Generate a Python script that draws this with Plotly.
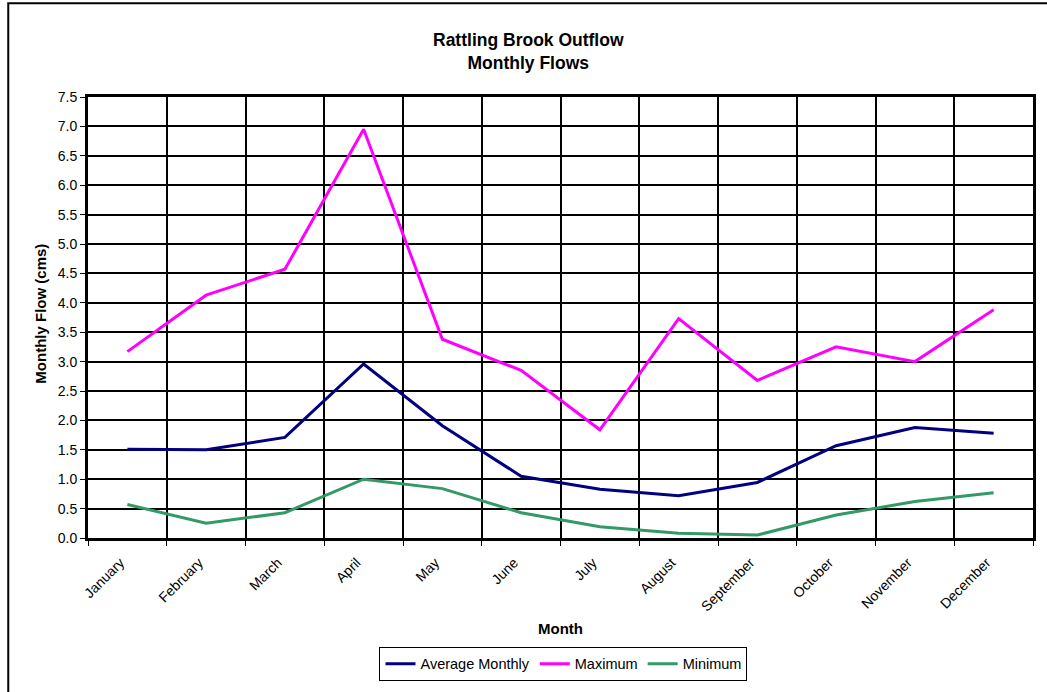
import plotly.graph_objects as go

months = ["January", "February", "March", "April", "May", "June", "July",
          "August", "September", "October", "November", "December"]
average_monthly = [1.51, 1.50, 1.71, 2.96, 1.91, 1.05, 0.83, 0.72, 0.945, 1.57, 1.88, 1.78]
maximum = [3.17, 4.13, 4.57, 6.95, 3.38, 2.85, 1.84, 3.73, 2.68, 3.25, 3.00, 3.88]
minimum = [0.57, 0.25, 0.43, 1.00, 0.84, 0.43, 0.19, 0.08, 0.05, 0.39, 0.62, 0.77]

y_ticks = [i * 0.5 for i in range(16)]
y_tick_labels = [f"{v:.1f}" for v in y_ticks]

FONT = "Liberation Sans, Arial, sans-serif"

fig = go.Figure()
fig.add_trace(go.Scatter(x=months, y=average_monthly, mode="lines", name="Average Monthly",
                         line=dict(color="#000080", width=3)))
fig.add_trace(go.Scatter(x=months, y=maximum, mode="lines", name="Maximum",
                         line=dict(color="#FF00FF", width=3)))
fig.add_trace(go.Scatter(x=months, y=minimum, mode="lines", name="Minimum",
                         line=dict(color="#339966", width=3)))

W, H = 1047, 692
L, R, T, B = 88, 11, 97, 153
pw, ph = W - L - R, H - T - B

def px_x(x):
    return (x - L) / pw

def px_y(y):
    return (H - B - y) / ph

fig.update_layout(
    width=W, height=H,
    margin=dict(l=L, r=R, t=T, b=B),
    paper_bgcolor="white", plot_bgcolor="white",
    font=dict(family=FONT, color="black", size=14),
    showlegend=True,
    legend=dict(orientation="h", x=px_x(565), y=px_y(665), xanchor="center", yanchor="middle",
                bordercolor="black", borderwidth=1, font=dict(size=14.5),
                itemwidth=30, tracegroupgap=0),
    xaxis=dict(type="category", tickson="boundaries", showgrid=True, gridcolor="black", gridwidth=2,
               ticks="outside", ticklen=5, tickcolor="black", tickwidth=1, tickangle=-45,
               showline=True, linecolor="black", linewidth=3, mirror=True,
               ticklabelstandoff=8, ticklabelshift=-7,
               tickfont=dict(size=14), range=[-0.5, 11.5], zeroline=False),
    yaxis=dict(range=[0, 7.5], tickvals=y_ticks, ticktext=y_tick_labels, showgrid=True,
               gridcolor="black", gridwidth=2, ticks="outside", ticklen=5, tickcolor="black",
               tickwidth=1, showline=True, linecolor="black", linewidth=3, mirror=True,
               tickfont=dict(size=14), zeroline=False),
    annotations=[
        dict(text="<b>Rattling Brook Outflow</b><br><b>Monthly Flows</b>", xref="paper", yref="paper",
             x=px_x(530), y=px_y(51), xanchor="center", yanchor="middle", showarrow=False,
             font=dict(size=17.5)),
        dict(text="<b>Month</b>", xref="paper", yref="paper", x=px_x(562), y=px_y(630),
             xanchor="center", yanchor="middle", showarrow=False, font=dict(size=15)),
        dict(text="<b>Monthly Flow (cms)</b>", xref="paper", yref="paper", x=px_x(40), y=px_y(314),
             xanchor="center", yanchor="middle", showarrow=False, textangle=-90, font=dict(size=15)),
    ],
    shapes=[
        dict(type="rect", xref="paper", yref="paper", x0=px_x(8), x1=px_x(1060), y0=px_y(700), y1=px_y(3),
             line=dict(color="black", width=2), layer="below"),
    ],
)

fig.write_html("out.html")
